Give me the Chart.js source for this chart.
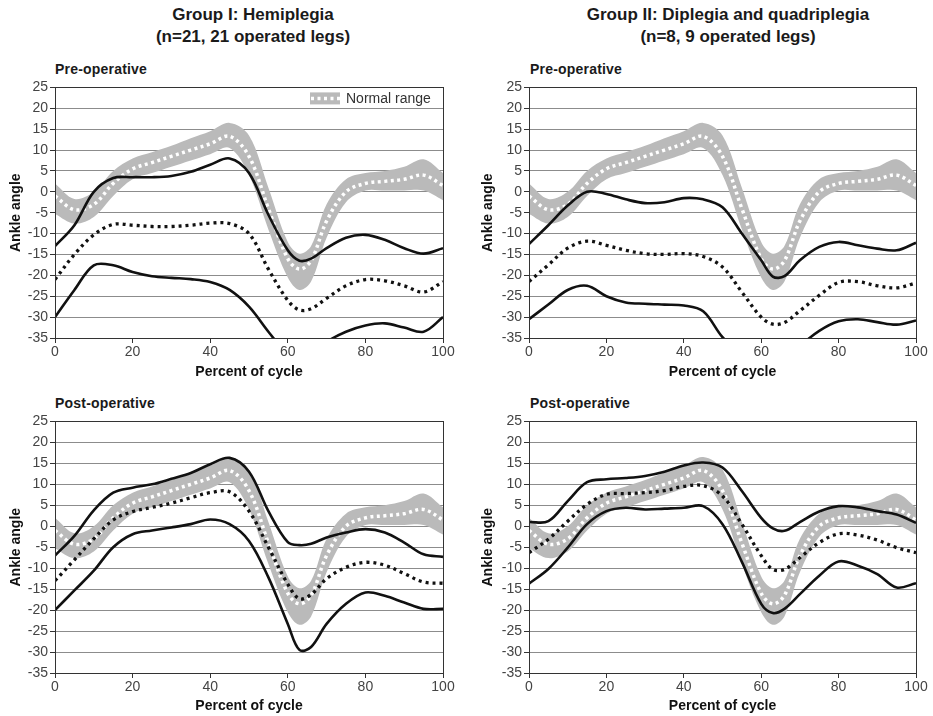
<!DOCTYPE html>
<html><head><meta charset="utf-8">
<script src="https://cdn.jsdelivr.net/npm/chart.js@4.4.1/dist/chart.umd.min.js"></script>
<style>
html,body{margin:0;padding:0;background:#fff;overflow:hidden;width:933px;height:716px;}
canvas{position:absolute;}
.gt{position:absolute;font:bold 17px "Liberation Sans",Arial,sans-serif;text-align:center;line-height:22px;color:#1a1a1a;width:400px;}
.pt{position:absolute;font:bold 14px "Liberation Sans",Arial,sans-serif;color:#1a1a1a;line-height:16px;letter-spacing:0.2px;}
</style></head><body>
<div class="gt" style="left:53px;top:4px">Group I: Hemiplegia<br>(n=21, 21 operated legs)</div>
<div class="gt" style="left:528px;top:4px">Group II: Diplegia and quadriplegia<br>(n=8, 9 operated legs)</div>
<div class="pt" style="left:55px;top:61px">Pre-operative</div>
<div class="pt" style="left:530px;top:61px">Pre-operative</div>
<div class="pt" style="left:55px;top:395px">Post-operative</div>
<div class="pt" style="left:530px;top:395px">Post-operative</div>
<canvas id="c1" width="460" height="306" style="left:0;top:77px"></canvas>
<canvas id="c2" width="463" height="306" style="left:470px;top:77px"></canvas>
<canvas id="c3" width="460" height="306" style="left:0;top:411px"></canvas>
<canvas id="c4" width="463" height="306" style="left:470px;top:411px"></canvas>
<script>
// Percent of gait cycle
const cycle = [0,5,10,15,20,25,30,35,40,45,50,55,60,63,66,70,75,80,85,90,95,100];
const xTicks = [0,20,40,60,80,100];
const yMin = -35, yMax = 25, yStep = 5;

// Normal range (same in all panels)
const normalUpper = [2,-1.7,0,5,8,9.5,11,12.8,14.5,16.5,13.5,1,-12,-14.8,-13,-3,3,4.5,5,6,7.8,4.5];
const normalMean  = [-1,-4.3,-3,2,5.5,7,8.5,10,11.5,13.3,8.5,-4,-16,-18.5,-16.5,-7,0,2,2.5,3,4,1.5];
const normalLower = [-5.3,-7.6,-6,-1,3,4.5,6,7.5,9,10.5,4,-9,-20.5,-23.5,-21.5,-11,-2.5,0.3,0.3,0.3,0.3,-2];

// Group I pre-operative
const g1PreUpper = [-13,-8,0,3.3,3.5,3.5,3.8,4.8,6.5,8,4.5,-5.5,-14,-16.5,-16,-13.5,-11,-10.3,-11.5,-13.5,-14.8,-13.5];
const g1PreMean  = [-21,-15,-10.3,-7.8,-8,-8.3,-8.3,-8,-7.5,-7.6,-10,-18.5,-26,-28.3,-28,-25.5,-22.5,-21,-21.3,-22.5,-24,-21.5];
const g1PreLower = [-30,-23.5,-17.6,-17.6,-19.2,-20.2,-20.6,-20.9,-21.6,-23.5,-27.5,-33.5,-39,-40.5,-40,-36,-33.5,-32,-31.5,-32.5,-33.5,-30];

// Group II pre-operative
const g2PreUpper = [-12.5,-8,-3.3,0,-0.5,-1.8,-2.7,-2.5,-1.5,-1.8,-3.7,-10,-16.4,-20.3,-20.2,-16.4,-13.2,-12,-12.8,-13.6,-14,-12.2];
const g2PreMean  = [-21.5,-17.5,-13.5,-11.8,-12.8,-14,-14.8,-15,-14.8,-15.5,-18,-24,-30,-31.7,-31.3,-28.5,-24.8,-21.7,-21.5,-22.5,-23,-21.8];
const g2PreLower = [-30.5,-27,-23.5,-22.5,-25,-26.5,-26.8,-27,-27.2,-28.6,-34.8,-39,-42,-42,-41,-37,-33.3,-31,-30.5,-31.2,-31.8,-30.8];

// Group I post-operative
const g1PostUpper = [-7,-2.3,3.8,8,9.2,10,11.3,12.7,14.8,16.3,13,3.6,-3.8,-4.5,-4.2,-2.7,-1.5,-0.7,-1.5,-3.9,-6.7,-7.3];
const g1PostMean  = [-13,-8,-3,1.5,3.5,4.5,5.5,6.8,8,8.2,3.6,-5,-13.8,-17.3,-16.3,-12.5,-9.8,-8.6,-9.3,-11.3,-13.3,-13.6];
const g1PostLower = [-20,-15.3,-10.6,-5,-1.9,-1,-0.3,0.5,1.6,0.5,-3.5,-12.2,-23.3,-29.5,-28.8,-23.3,-18.5,-15.8,-16.6,-18.2,-19.7,-19.7];

// Group II post-operative
const g2PostUpper = [1,1.2,6,10.5,11.2,11.5,12,13,14.5,15.2,14,8.4,2,-0.5,-1.1,1,3.5,4.8,4.5,3.6,2.8,0.8];
const g2PostMean  = [-6.3,-3.1,1.2,5.2,7.6,7.8,8,8.5,9.5,9.7,7.2,0.5,-7,-10.3,-10.3,-7.5,-3.9,-1.8,-2.1,-3.3,-5.1,-6.3];
const g2PostLower = [-13.7,-10.2,-5.1,0.5,3.6,4.4,4,4.2,4.4,4.8,0.5,-8.5,-18.5,-20.7,-19.7,-16.2,-11.8,-8.4,-9.4,-11.4,-14.6,-13.6];

const FONT = '"Liberation Sans", Arial, sans-serif';
const BAND = 'rgb(186,186,186)';
const TENSION = 0.35;
const pts = arr => cycle.map((x, i) => ({x, y: arr[i]}));

const frame = {
  id: 'frame',
  afterDatasetsDraw(chart) {
    const a = chart.chartArea, c = chart.ctx;
    c.save(); c.strokeStyle = '#333'; c.lineWidth = 1;
    c.strokeRect(Math.round(a.left) + 0.5, Math.round(a.top) + 0.5, Math.round(a.right - a.left), Math.round(a.bottom - a.top));
    c.restore();
  }
};
const legendBox = {
  id: 'legendBox',
  afterDraw(chart) {
    const a = chart.chartArea, c = chart.ctx;
    const x0 = a.right - 133, yc = a.top + 11;
    c.save();
    c.fillStyle = BAND;
    c.fillRect(x0, yc - 6, 30, 12);
    c.strokeStyle = '#fff'; c.lineWidth = 3.5; c.setLineDash([3, 3.5]);
    c.beginPath(); c.moveTo(x0 + 1, yc); c.lineTo(x0 + 30, yc); c.stroke();
    c.setLineDash([]);
    c.fillStyle = '#333'; c.font = '14px ' + FONT; c.textBaseline = 'middle'; c.textAlign = 'left';
    c.fillText('Normal range', x0 + 36, yc + 1);
    c.restore();
  }
};

function makePanel(id, upper, mean, lower, yWidth, xHeight, yTitlePad, withLegend) {
  const line = (data, dashed, order, color, w) => ({
    data: pts(data), borderColor: color, borderWidth: w, pointRadius: 0,
    borderDash: dashed, tension: TENSION, fill: false, order
  });
  new Chart(document.getElementById(id), {
    type: 'line',
    data: {
      datasets: [
        {data: pts(normalUpper), borderWidth: 0, borderColor: BAND, backgroundColor: BAND, pointRadius: 0, tension: TENSION, fill: '+1', order: 5},
        {data: pts(normalLower), borderWidth: 0, borderColor: BAND, backgroundColor: BAND, pointRadius: 0, tension: TENSION, fill: false, order: 5},
        line(normalMean, [3, 3.5], 4, '#ffffff', 3.5),
        line(upper, [], 1, '#111', 2.6),
        line(mean, [3, 4], 1, '#111', 3.3),
        line(lower, [], 1, '#111', 2.6)
      ]
    },
    options: {
      responsive: false, animation: false, devicePixelRatio: 1,
      layout: {padding: {top: 9, right: 17, left: 0, bottom: 0}},
      plugins: {legend: {display: false}, tooltip: {enabled: false}},
      scales: {
        x: {
          type: 'linear', min: 0, max: 100,
          afterBuildTicks: s => { s.ticks = xTicks.map(v => ({value: v})); },
          afterFit: s => { s.height = xHeight; },
          grid: {drawOnChartArea: false, drawTicks: true, tickLength: 5, color: '#333'},
          border: {color: '#333'},
          ticks: {font: {family: FONT, size: 14}, color: '#444', padding: 1, maxRotation: 0},
          title: {display: true, text: 'Percent of cycle', font: {family: FONT, size: 14, weight: 'bold'}, color: '#111', padding: {top: 0, bottom: 2}}
        },
        y: {
          min: yMin, max: yMax,
          afterFit: s => { s.width = yWidth; },
          grid: {color: '#8c8c8c', tickColor: '#333', tickLength: 5, lineWidth: 1},
          border: {color: '#333'},
          ticks: {stepSize: yStep, font: {family: FONT, size: 14}, color: '#444', padding: 2},
          title: {display: true, text: 'Ankle angle', font: {family: FONT, size: 14, weight: 'bold'}, color: '#111', padding: {top: yTitlePad, bottom: 0}}
        }
      }
    },
    plugins: withLegend ? [frame, legendBox] : [frame]
  });
}

makePanel('c1', g1PreUpper, g1PreMean, g1PreLower, 55, 45, 8, true);
makePanel('c2', g2PreUpper, g2PreMean, g2PreLower, 59, 45, 10, false);
makePanel('c3', g1PostUpper, g1PostMean, g1PostLower, 55, 44, 8, false);
makePanel('c4', g2PostUpper, g2PostMean, g2PostLower, 59, 44, 10, false);
</script>
</body></html>
